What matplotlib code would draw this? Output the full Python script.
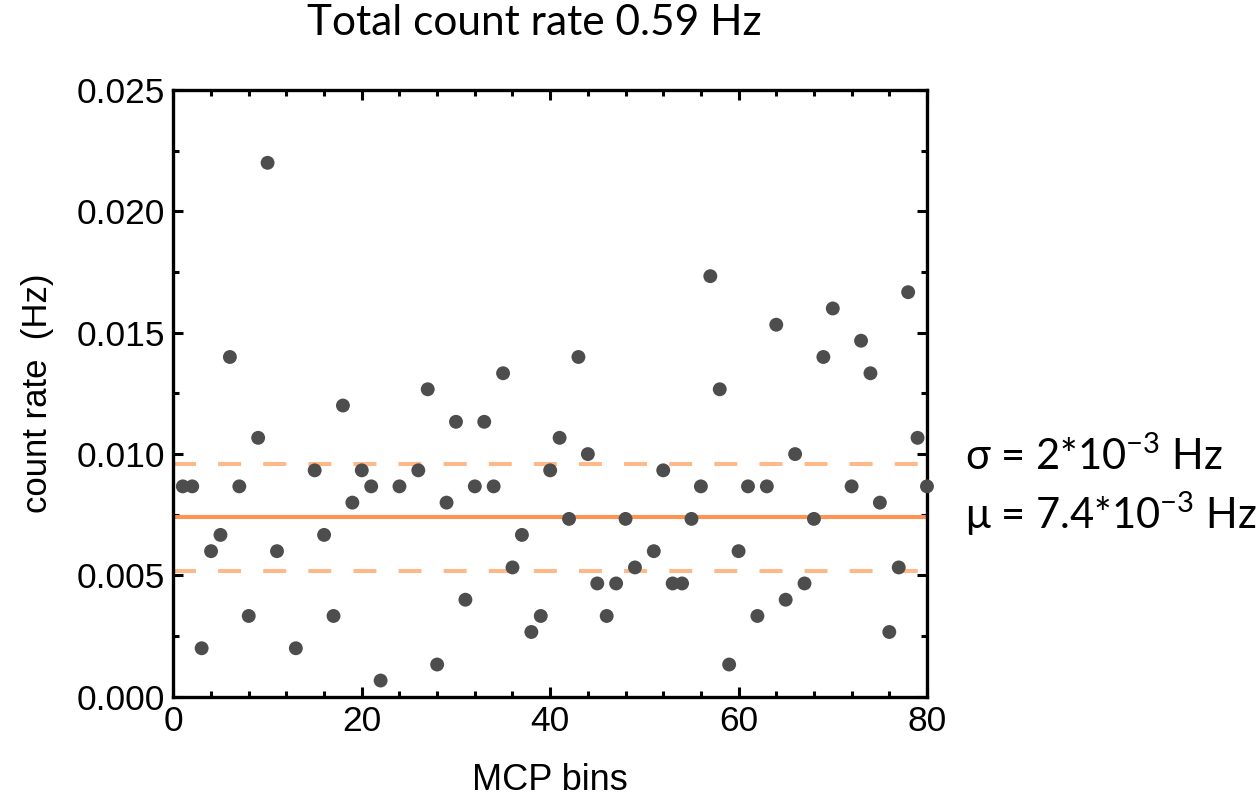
import numpy as np
import matplotlib
matplotlib.use("Agg")
import matplotlib.pyplot as plt
from matplotlib.ticker import MultipleLocator

# MCP bin index and measured count rate (Hz)
bins = [1, 2, 3, 4, 5, 6, 7, 8, 9, 10, 11, 13, 15, 16, 17, 18, 19, 20,
        21, 22, 24, 26, 27, 28, 29, 30, 31, 32, 33, 34, 35, 36, 37, 38,
        39, 40, 41, 42, 43, 44, 45, 46, 47, 48, 49, 51, 52, 53, 54, 55,
        56, 57, 58, 59, 60, 61, 62, 63, 64, 65, 66, 67, 68, 69, 70, 72,
        73, 74, 75, 76, 77, 78, 79, 80]
rate = [0.00867, 0.00867, 0.00200, 0.00600, 0.00667, 0.01400, 0.00867,
        0.00333, 0.01067, 0.02200, 0.00600, 0.00200, 0.00933, 0.00667,
        0.00333, 0.01200, 0.00800, 0.00933, 0.00867, 0.00067, 0.00867,
        0.00933, 0.01267, 0.00133, 0.00800, 0.01133, 0.00400, 0.00867,
        0.01133, 0.00867, 0.01333, 0.00533, 0.00667, 0.00267, 0.00333,
        0.00933, 0.01067, 0.00733, 0.01400, 0.01000, 0.00467, 0.00333,
        0.00467, 0.00733, 0.00533, 0.00600, 0.00933, 0.00467, 0.00467,
        0.00733, 0.00867, 0.01733, 0.01267, 0.00133, 0.00600, 0.00867,
        0.00333, 0.00867, 0.01533, 0.00400, 0.01000, 0.00467, 0.00733,
        0.01400, 0.01600, 0.00867, 0.01467, 0.01333, 0.00800, 0.00267,
        0.00533, 0.01667, 0.01067, 0.00867]

mean_rate = 0.0074
band_lo = 0.0052
band_hi = 0.0096

plt.rcParams['mathtext.fontset'] = 'custom'
plt.rcParams['mathtext.rm'] = 'Lato'
plt.rcParams['mathtext.it'] = 'Lato'

fig = plt.figure(figsize=(12.6, 8), dpi=100)
ax = fig.add_axes([0.1376, 0.129, 0.5981, 0.7585])

ax.axhline(mean_rate, color='#ff9352', lw=2.9, zorder=2)
for lev in (band_lo, band_hi):
    ax.axhline(lev, color='#ffb888', lw=2.9, ls=(0, (5.7, 5.5)), zorder=2)
ax.scatter(bins, rate, s=100, color='#4d4d4d', edgecolors='none', zorder=3, clip_on=False)

ax.set_xlim(0, 80)
ax.set_ylim(0, 0.025)
ax.xaxis.set_major_locator(MultipleLocator(20))
ax.xaxis.set_minor_locator(MultipleLocator(4))
ax.yaxis.set_major_locator(MultipleLocator(0.005))
ax.yaxis.set_minor_locator(MultipleLocator(0.0025))
ax.yaxis.set_major_formatter(matplotlib.ticker.FormatStrFormatter('%.3f'))
ax.tick_params(which='both', direction='in', top=True, right=True, width=2.2,
               labelsize=25.5, pad=6, labelfontfamily='Liberation Sans')
ax.tick_params(which='major', length=7.5)
ax.tick_params(which='minor', length=4)
for sp in ax.spines.values():
    sp.set_linewidth(2.4)

ax.set_xlabel('MCP bins', fontsize=26, family='Liberation Sans', labelpad=18)
ax.set_ylabel('count rate  (Hz)', fontsize=25, family='Liberation Sans', labelpad=16)

fig.text(0.424, 0.995, 'Total count rate 0.59 Hz', ha='center', va='top',
         fontsize=30.5, family='Lato')

fig.text(0.766, 0.429, '\u03c3 = 2*10$^{-3}$ Hz', fontsize=30, va='center',
         family=['Lato', 'DejaVu Serif'])
fig.text(0.766, 0.357, '\u03bc = 7.4*10$^{-3}$ Hz', fontsize=30, va='center',
         family=['Lato', 'DejaVu Serif'])

fig.savefig('out.png', dpi=100)
